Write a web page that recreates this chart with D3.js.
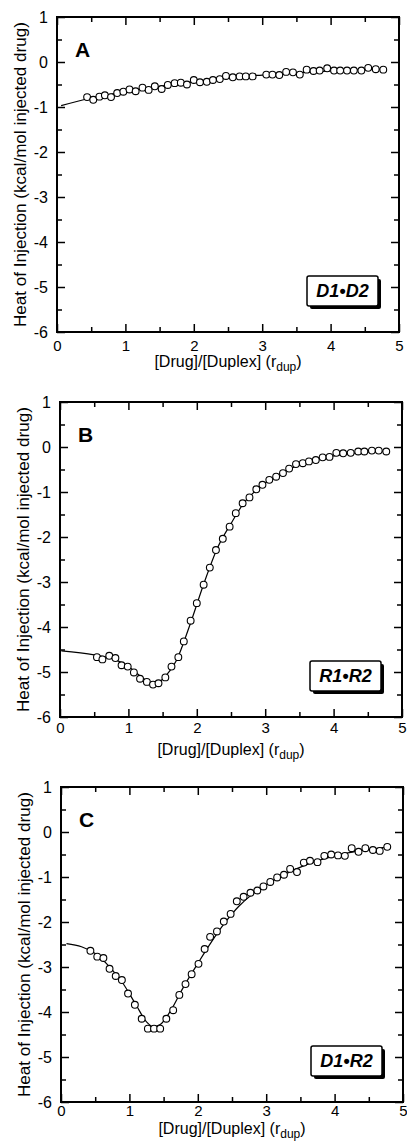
<!DOCTYPE html>
<html>
<head>
<meta charset="utf-8">
<script src="https://cdn.jsdelivr.net/npm/d3@7"></script>
<style>
  body { margin: 0; background: #fff; }
  text { font-family: "Liberation Sans", Arial, sans-serif; }
</style>
</head>
<body>
<div id="chart"></div>
<script>
// Panel A (D1•D2) - measured points and fitted curve
var aX = [0.44, 0.53, 0.62, 0.70, 0.79, 0.88, 0.97, 1.06, 1.15, 1.25, 1.34, 1.43, 1.53, 1.62, 1.72,
          1.81, 1.90, 2.00, 2.09, 2.19, 2.28, 2.38, 2.47, 2.57, 2.67, 2.76, 2.86, 3.06, 3.15, 3.25,
          3.35, 3.45, 3.55, 3.65, 3.75, 3.84, 3.95, 4.05, 4.14, 4.24, 4.34, 4.45, 4.55, 4.66, 4.77];
var aY = [-0.78, -0.84, -0.77, -0.74, -0.78, -0.69, -0.66, -0.61, -0.65, -0.57, -0.62, -0.54, -0.60, -0.51, -0.47,
          -0.46, -0.50, -0.40, -0.45, -0.44, -0.40, -0.38, -0.31, -0.34, -0.32, -0.32, -0.32, -0.28, -0.28, -0.29,
          -0.22, -0.23, -0.28, -0.17, -0.20, -0.19, -0.14, -0.19, -0.19, -0.19, -0.19, -0.19, -0.13, -0.16, -0.17];
var aFitX = [0.06, 0.5, 1, 1.5, 2, 2.5, 3, 3.5, 4, 4.5, 4.8];
var aFitY = [-0.97, -0.80, -0.66, -0.54, -0.44, -0.35, -0.29, -0.24, -0.20, -0.17, -0.16];

// Panel B (R1•R2)
var bX = [0.54, 0.62, 0.72, 0.81, 0.90, 0.99, 1.08, 1.17, 1.27, 1.36, 1.44, 1.54, 1.63, 1.73, 1.81,
          1.91, 2.00, 2.10, 2.19, 2.28, 2.38, 2.48, 2.57, 2.67, 2.77, 2.87, 2.96, 3.06, 3.16, 3.26,
          3.35, 3.45, 3.55, 3.64, 3.74, 3.84, 3.94, 4.04, 4.14, 4.25, 4.36, 4.45, 4.56, 4.66, 4.77];
var bY = [-4.67, -4.72, -4.64, -4.69, -4.85, -4.88, -5.01, -5.15, -5.22, -5.28, -5.25, -5.12, -4.88, -4.67, -4.32,
          -3.86, -3.47, -3.06, -2.68, -2.29, -2.04, -1.77, -1.47, -1.25, -1.12, -0.94, -0.84, -0.73, -0.66, -0.58,
          -0.48, -0.38, -0.36, -0.32, -0.29, -0.23, -0.22, -0.13, -0.14, -0.13, -0.10, -0.10, -0.08, -0.08, -0.10];
var bFitX = [0.02, 0.5, 0.8, 1.0, 1.2, 1.35, 1.45, 1.55, 1.7, 1.9, 2.1, 2.3, 2.5, 2.7, 2.9, 3.1, 3.4, 3.7, 4.0, 4.4, 4.8];
var bFitY = [-4.53, -4.62, -4.72, -4.88, -5.12, -5.25, -5.22, -5.08, -4.75, -3.95, -3.05, -2.25, -1.70, -1.22, -0.92,
             -0.70, -0.46, -0.30, -0.20, -0.12, -0.09];

// Panel C (D1•R2)
var cX = [0.43, 0.53, 0.62, 0.71, 0.80, 0.89, 0.98, 1.08, 1.18, 1.27, 1.36, 1.45, 1.54, 1.64, 1.73, 1.82,
          1.91, 2.01, 2.10, 2.18, 2.28, 2.38, 2.48, 2.57, 2.67, 2.77, 2.87, 2.96, 3.06, 3.16, 3.26, 3.35,
          3.45, 3.55, 3.64, 3.75, 3.85, 3.95, 4.05, 4.15, 4.25, 4.35, 4.45, 4.56, 4.66, 4.77];
var cY = [-2.64, -2.77, -2.80, -3.04, -3.20, -3.29, -3.59, -3.84, -4.15, -4.37, -4.37, -4.37, -4.15, -3.96, -3.62, -3.38,
          -3.16, -2.93, -2.60, -2.33, -2.21, -1.99, -1.82, -1.54, -1.44, -1.35, -1.30, -1.21, -1.11, -1.01, -0.95, -0.82,
          -0.89, -0.68, -0.64, -0.67, -0.53, -0.50, -0.52, -0.53, -0.36, -0.44, -0.36, -0.40, -0.42, -0.33];
var cFitX = [0.08, 0.3, 0.5, 0.7, 0.9, 1.1, 1.25, 1.35, 1.45, 1.6, 1.8, 2.0, 2.2, 2.4, 2.6, 2.8, 3.0, 3.3, 3.6, 4.0, 4.4, 4.8];
var cFitY = [-2.48, -2.55, -2.70, -2.98, -3.35, -3.85, -4.22, -4.33, -4.28, -3.98, -3.42, -2.92, -2.44, -2.01, -1.65,
             -1.38, -1.17, -0.92, -0.72, -0.53, -0.41, -0.33];

// Tick values and labels
var xTicks = [0, 1, 2, 3, 4, 5];
var xMinor = [0.5, 1.5, 2.5, 3.5, 4.5];
var yTicks = [-6, -5, -4, -3, -2, -1, 0, 1];
var yMinor = [-5.5, -4.5, -3.5, -2.5, -1.5, -0.5, 0.5];
var letters = ["A", "B", "C"];
var tags = ["D1•D2", "R1•R2", "D1•R2"];
var yTitle = "Heat of Injection (kcal/mol injected drug)";

// Size of the whole picture and of each plot box
var w = 407;
var h = 1146;
var pw = 342;
var ph = 315;

var svg = d3.select("#chart")
    .append("svg")
    .attr("width", w)
    .attr("height", h);

svg.append("rect").attr("width", w).attr("height", h).attr("fill", "#fff");

var xScale = d3.scaleLinear().domain([0, 5]).range([0, pw]);
var yScale = d3.scaleLinear().domain([-6, 1]).range([ph, 0]);

// Position of each panel (the scan drifts a little)
var panels = [
    { left: 57, top: 17, tickDy: 19, labelDy: 35, xs: aX, ys: aY, fx: aFitX, fy: aFitY },
    { left: 60, top: 402, tickDy: 16, labelDy: 38, xs: bX, ys: bY, fx: bFitX, fy: bFitY },
    { left: 61, top: 787, tickDy: 14, labelDy: 32, xs: cX, ys: cY, fx: cFitX, fy: cFitY }
];

panels.forEach(function (p, i) {
    drawPanel(p, letters[i], tags[i]);
});

function styleAxis(sel, fontSize) {
    sel.select(".domain").remove();
    sel.selectAll("line").attr("stroke", "#000").attr("stroke-width", 1.5);
    sel.attr("font-size", fontSize).attr("font-family", "Liberation Sans, Arial, sans-serif");
    sel.selectAll("text").attr("fill", "#000");
}

function drawPanel(p, letter, tag) {
    var g = svg.append("g")
        .attr("transform", "translate(" + p.left + "," + p.top + ")");

    // Major ticks with labels on bottom and left, inward ticks on all sides
    g.append("g")
        .attr("transform", "translate(0," + ph + ")")
        .call(d3.axisBottom(xScale).tickValues(xTicks).tickSize(-8).tickPadding(p.tickDy - 10.7)
            .tickFormat(function (d) { return String(d); }))
        .call(styleAxis, 15);
    g.append("g")
        .attr("transform", "translate(0," + ph + ")")
        .call(d3.axisBottom(xScale).tickValues(xMinor).tickSize(-5).tickFormat(""))
        .call(styleAxis, 15);
    g.append("g")
        .call(d3.axisTop(xScale).tickValues(xTicks).tickSize(-8).tickFormat(""))
        .call(styleAxis, 15);
    g.append("g")
        .call(d3.axisTop(xScale).tickValues(xMinor).tickSize(-5).tickFormat(""))
        .call(styleAxis, 15);

    g.append("g")
        .call(d3.axisLeft(yScale).tickValues(yTicks).tickSize(-8).tickPadding(9)
            .tickFormat(function (d) { return String(d); }))
        .call(styleAxis, 16);
    g.append("g")
        .call(d3.axisLeft(yScale).tickValues(yMinor).tickSize(-5).tickFormat(""))
        .call(styleAxis, 16);
    g.append("g")
        .attr("transform", "translate(" + pw + ",0)")
        .call(d3.axisRight(yScale).tickValues(yTicks).tickSize(-8).tickFormat(""))
        .call(styleAxis, 16);
    g.append("g")
        .attr("transform", "translate(" + pw + ",0)")
        .call(d3.axisRight(yScale).tickValues(yMinor).tickSize(-5).tickFormat(""))
        .call(styleAxis, 16);

    // Frame
    g.append("rect")
        .attr("width", pw)
        .attr("height", ph)
        .attr("fill", "none")
        .attr("stroke", "#000")
        .attr("stroke-width", 2);

    // Fitted curve
    var fit = p.fx.map(function (x, j) { return [x, p.fy[j]]; });
    var line = d3.line()
        .x(function (d) { return xScale(d[0]); })
        .y(function (d) { return yScale(d[1]); })
        .curve(d3.curveMonotoneX);
    g.append("path")
        .datum(fit)
        .attr("d", line)
        .attr("fill", "none")
        .attr("stroke", "#000")
        .attr("stroke-width", 1.2);

    // Measured points
    var pts = p.xs.map(function (x, j) { return [x, p.ys[j]]; });
    g.append("g")
        .selectAll("circle")
        .data(pts)
        .enter()
        .append("circle")
        .attr("cx", function (d) { return xScale(d[0]); })
        .attr("cy", function (d) { return yScale(d[1]); })
        .attr("r", 3.4)
        .attr("fill", "#fff")
        .attr("stroke", "#000")
        .attr("stroke-width", 1.1);

    // Panel letter
    g.append("text")
        .attr("x", 18)
        .attr("y", 40)
        .style("font-size", "21px")
        .style("font-weight", "bold")
        .text(letter);

    // Duplex tag with a drop shadow box
    var bx = pw - 92, by = ph - 56, bw = 71, bh = 30;
    g.append("rect")
        .attr("x", bx + 3).attr("y", by + 3)
        .attr("width", bw).attr("height", bh)
        .attr("rx", 2)
        .attr("fill", "#000");
    g.append("rect")
        .attr("x", bx).attr("y", by)
        .attr("width", bw).attr("height", bh)
        .attr("rx", 2)
        .attr("fill", "#fff")
        .attr("stroke", "#000")
        .attr("stroke-width", 1.5);
    g.append("text")
        .attr("x", bx + bw / 2)
        .attr("y", by + 21)
        .attr("text-anchor", "middle")
        .style("font-size", "18px")
        .style("font-weight", "bold")
        .style("font-style", "italic")
        .text(tag);

    // Axis titles
    var xt = g.append("text")
        .attr("x", pw / 2)
        .attr("y", ph + p.labelDy)
        .attr("text-anchor", "middle")
        .style("font-size", "16px");
    xt.append("tspan").text("[Drug]/[Duplex] (r");
    xt.append("tspan").attr("dy", 4).style("font-size", "12px").text("dup");
    xt.append("tspan").attr("dy", -4).text(")");

    g.append("text")
        .attr("transform", "translate(" + (26 - 57) + "," + (ph / 2) + ") rotate(-90)")
        .attr("text-anchor", "middle")
        .attr("textLength", 305)
        .attr("lengthAdjust", "spacingAndGlyphs")
        .style("font-size", "16px")
        .text(yTitle);
}
</script>
</body>
</html>
